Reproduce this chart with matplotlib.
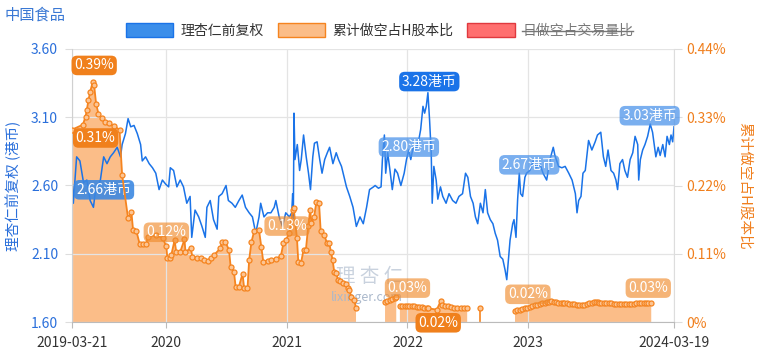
import matplotlib
matplotlib.use("Agg")
import matplotlib.pyplot as plt
from matplotlib.patches import Patch
from matplotlib.lines import Line2D
import numpy as np
import pandas as pd

plt.rcParams["font.family"] = ["Noto Sans CJK SC", "DejaVu Sans"]

TITLE = "中国食品"
PRICE_NAME = "理杏仁前复权"
SHORT_NAME = "累计做空占H股本比"
DAILY_NAME = "日做空占交易量比"
UNIT = "港币"

# price (HKD, forward adjusted)
price_dates = [
    "2019-03-21", "2019-03-25", "2019-04-04", "2019-04-14", "2019-04-25", "2019-05-05", "2019-05-15",
    "2019-05-25", "2019-05-30", "2019-06-15", "2019-06-25", "2019-07-05", "2019-07-15", "2019-07-25",
    "2019-08-05", "2019-08-15", "2019-08-20", "2019-08-30", "2019-09-07", "2019-09-15", "2019-09-25",
    "2019-10-05", "2019-10-15", "2019-10-20", "2019-10-30", "2019-11-10", "2019-11-20", "2019-11-30",
    "2019-12-10", "2019-12-20", "2019-12-30", "2020-01-08", "2020-01-13", "2020-01-23", "2020-02-02",
    "2020-02-12", "2020-02-22", "2020-03-03", "2020-03-13", "2020-03-18", "2020-03-28", "2020-04-08",
    "2020-04-18", "2020-04-28", "2020-05-03", "2020-05-13", "2020-05-23", "2020-06-03", "2020-06-08",
    "2020-06-18", "2020-06-30", "2020-07-07", "2020-07-18", "2020-07-28", "2020-08-08", "2020-08-18",
    "2020-08-28", "2020-09-08", "2020-09-18", "2020-09-28", "2020-10-08", "2020-10-13", "2020-10-23",
    "2020-11-03", "2020-11-13", "2020-11-23", "2020-11-28", "2020-12-08", "2020-12-18", "2020-12-28",
    "2021-01-08", "2021-01-15", "2021-01-18", "2021-01-20", "2021-01-22", "2021-01-25", "2021-02-01",
    "2021-02-08", "2021-02-13", "2021-02-20", "2021-02-28", "2021-03-07", "2021-03-13", "2021-03-20",
    "2021-03-25", "2021-04-02", "2021-04-10", "2021-04-17", "2021-04-25", "2021-05-03", "2021-05-10",
    "2021-05-20", "2021-05-30", "2021-06-06", "2021-06-15", "2021-06-23", "2021-06-30", "2021-07-10",
    "2021-07-20", "2021-07-30", "2021-08-10", "2021-08-20", "2021-08-30", "2021-09-08", "2021-09-20",
    "2021-09-25", "2021-10-05", "2021-10-13", "2021-10-17", "2021-10-23", "2021-10-27", "2021-11-02",
    "2021-11-09", "2021-11-16", "2021-11-24", "2021-12-02", "2021-12-12", "2021-12-22", "2021-12-29",
    "2022-01-05", "2022-01-11", "2022-01-18", "2022-01-28", "2022-02-04", "2022-02-10", "2022-02-17",
    "2022-02-22", "2022-02-27", "2022-03-04", "2022-03-09", "2022-03-14", "2022-03-17", "2022-03-22",
    "2022-03-29", "2022-04-03", "2022-04-11", "2022-04-18", "2022-04-28", "2022-05-07", "2022-05-18",
    "2022-05-28", "2022-06-06", "2022-06-17", "2022-06-26", "2022-07-03", "2022-07-11", "2022-07-19",
    "2022-07-26", "2022-08-02", "2022-08-10", "2022-08-18", "2022-08-25", "2022-09-01", "2022-09-09",
    "2022-09-17", "2022-09-24", "2022-10-01", "2022-10-09", "2022-10-17", "2022-10-24", "2022-10-29",
    "2022-11-03", "2022-11-08", "2022-11-16", "2022-11-20", "2022-11-26", "2022-12-01", "2022-12-06",
    "2022-12-10", "2022-12-16", "2022-12-23", "2022-12-28", "2023-01-07", "2023-01-17", "2023-01-27",
    "2023-02-06", "2023-02-16", "2023-02-27", "2023-03-09", "2023-03-19", "2023-03-24", "2023-04-04",
    "2023-04-14", "2023-04-24", "2023-05-05", "2023-05-15", "2023-05-25", "2023-05-30", "2023-06-04",
    "2023-06-11", "2023-06-17", "2023-06-24", "2023-07-04", "2023-07-14", "2023-07-24", "2023-07-31",
    "2023-08-10", "2023-08-18", "2023-08-25", "2023-09-01", "2023-09-10", "2023-09-18", "2023-09-25",
    "2023-09-30", "2023-10-07", "2023-10-15", "2023-10-22", "2023-10-30", "2023-11-07", "2023-11-15",
    "2023-11-22", "2023-11-30", "2023-12-03", "2023-12-08", "2023-12-15", "2023-12-22", "2023-12-30",
    "2024-01-07", "2024-01-14", "2024-01-19", "2024-01-24", "2024-01-31", "2024-02-06", "2024-02-14",
    "2024-02-21", "2024-02-27", "2024-03-05", "2024-03-10", "2024-03-15", "2024-03-19",
]
price_vals = [
    2.66, 2.47, 2.81, 2.78, 2.62, 2.64, 2.49,
    2.44, 2.54, 2.64, 2.81, 2.76, 2.81, 2.84,
    2.88, 2.81, 2.90, 2.98, 3.09, 3.03, 3.04,
    2.98, 2.90, 2.78, 2.81, 2.76, 2.73, 2.69,
    2.57, 2.64, 2.61, 2.59, 2.73, 2.71, 2.59,
    2.64, 2.59, 2.47, 2.52, 2.22, 2.42, 2.37,
    2.30, 2.22, 2.44, 2.49, 2.35, 2.28, 2.52,
    2.54, 2.60, 2.49, 2.47, 2.44, 2.49, 2.53,
    2.44, 2.40, 2.37, 2.25, 2.37, 2.47, 2.37,
    2.40, 2.40, 2.44, 2.49, 2.37, 2.30, 2.40,
    2.37, 2.40, 2.54, 2.36, 3.13, 2.79, 2.90,
    2.71, 2.79, 2.97, 2.81, 2.69, 2.57, 2.81,
    2.91, 2.92, 2.79, 2.69, 2.79, 2.84, 2.88,
    2.76, 2.84, 2.79, 2.74, 2.66, 2.59, 2.52,
    2.44, 2.30, 2.37, 2.32, 2.44, 2.57, 2.59,
    2.60, 2.58, 2.59, 2.79, 2.97, 2.69, 2.84,
    2.71, 2.57, 2.72, 2.69, 2.60, 2.69, 2.79,
    2.86, 2.79, 2.88, 2.87, 2.93, 3.01, 3.18,
    3.13, 3.18, 3.28, 3.08, 2.84, 2.47, 2.74,
    2.64, 2.50, 2.59, 2.52, 2.47, 2.54, 2.49,
    2.47, 2.52, 2.54, 2.69, 2.66, 2.52, 2.47,
    2.37, 2.32, 2.47, 2.40, 2.57, 2.40, 2.35,
    2.32, 2.25, 2.20, 2.08, 2.06, 1.98, 1.91,
    2.06, 2.20, 2.32, 2.35, 2.22, 2.50, 2.69,
    2.54, 2.52, 2.66, 2.69, 2.71, 2.78, 2.73,
    2.76, 2.69, 2.64, 2.79, 2.88, 2.82, 2.74,
    2.73, 2.74, 2.69, 2.64, 2.54, 2.40, 2.49,
    2.52, 2.69, 2.71, 2.93, 2.86, 2.92, 2.97,
    2.99, 2.81, 2.74, 2.86, 2.71, 2.69, 2.64,
    2.57, 2.76, 2.79, 2.71, 2.66, 2.79, 2.84,
    2.96, 2.90, 2.64, 2.79, 2.86, 2.90, 2.96,
    3.05, 2.99, 2.90, 2.81, 2.88, 2.82, 2.90,
    2.81, 2.96, 2.90, 2.97, 2.92, 3.03,
]

# cumulative short interest, % of H shares (None = no data)
short_dates = [
    "2019-03-21", "2019-04-23", "2019-05-01", "2019-05-05", "2019-05-10", "2019-05-15", "2019-05-23",
    "2019-05-27", "2019-06-02", "2019-06-09", "2019-06-19", "2019-06-30", "2019-07-10", "2019-07-25",
    "2019-08-12", "2019-08-20", "2019-09-07", "2019-09-17", "2019-09-22", "2019-10-02", "2019-10-12",
    "2019-10-22", "2019-11-01", "2019-11-06", "2019-12-01", "2019-12-21", "2020-01-01", "2020-01-04",
    "2020-01-11", "2020-01-16", "2020-01-26", "2020-01-31", "2020-02-12", "2020-02-25", "2020-02-28",
    "2020-03-15", "2020-03-20", "2020-04-04", "2020-04-15", "2020-04-25", "2020-05-05", "2020-05-15",
    "2020-05-25", "2020-06-13", "2020-06-18", "2020-06-28", "2020-07-09", "2020-07-14", "2020-07-24",
    "2020-07-29", "2020-08-08", "2020-08-19", "2020-08-24", "2020-09-03", "2020-09-08", "2020-09-15",
    "2020-09-23", "2020-10-08", "2020-10-15", "2020-10-21", "2020-11-03", "2020-11-13", "2020-11-28",
    "2020-12-13", "2020-12-21", "2020-12-28", "2021-01-08", "2021-01-18", "2021-01-21", "2021-01-31",
    "2021-02-04", "2021-02-12", "2021-02-20", "2021-02-27", "2021-03-06", "2021-03-12", "2021-03-16",
    "2021-03-24", "2021-03-31", "2021-04-08", "2021-04-13", "2021-04-24", "2021-05-02", "2021-05-09",
    "2021-05-14", "2021-05-19", "2021-05-24", "2021-05-29", "2021-06-05", "2021-06-11", "2021-06-19",
    "2021-06-29", "2021-07-04", "2021-07-09", "2021-07-14", "2021-07-24", "2021-07-29", "2021-08-05",
    "2021-10-20", "2021-10-25", "2021-11-01", "2021-11-08", "2021-11-15", "2021-11-23", "2021-11-28",
    "2021-12-03", "2021-12-09", "2021-12-16", "2021-12-23", "2021-12-30", "2022-01-07", "2022-01-14",
    "2022-01-22", "2022-01-29", "2022-02-06", "2022-02-13", "2022-02-21", "2022-02-28", "2022-03-04",
    "2022-03-31", "2022-04-12", "2022-04-17", "2022-04-25", "2022-05-03", "2022-05-12", "2022-05-21",
    "2022-05-30", "2022-06-11", "2022-06-20", "2022-07-01", "2022-07-10", "2022-08-08", "2022-08-15",
    "2022-11-15", "2022-11-23", "2022-11-30", "2022-12-08", "2022-12-15", "2022-12-23", "2022-12-30",
    "2023-01-07", "2023-01-14", "2023-01-22", "2023-01-29", "2023-02-06", "2023-02-13", "2023-02-21",
    "2023-03-01", "2023-03-07", "2023-03-13", "2023-03-20", "2023-03-26", "2023-04-02", "2023-04-10",
    "2023-04-16", "2023-04-22", "2023-04-29", "2023-05-07", "2023-05-14", "2023-05-22", "2023-05-29",
    "2023-06-06", "2023-06-13", "2023-06-21", "2023-06-28", "2023-07-06", "2023-07-13", "2023-07-19",
    "2023-07-26", "2023-08-01", "2023-08-05", "2023-08-12", "2023-08-20", "2023-08-27", "2023-09-04",
    "2023-09-11", "2023-09-19", "2023-09-26", "2023-10-04", "2023-10-11", "2023-10-19", "2023-10-26",
    "2023-11-03", "2023-11-10", "2023-11-18", "2023-11-25", "2023-12-03", "2023-12-10", "2023-12-18",
    "2023-12-25", "2024-01-01", "2024-01-10",
]
short_vals = [
    0.310, 0.318, 0.331, 0.342, 0.358, 0.371, 0.387,
    0.382, 0.352, 0.336, 0.328, 0.323, 0.320, 0.316,
    0.310, 0.237, 0.167, 0.178, 0.149, 0.147, 0.126,
    0.126, 0.126, 0.137, 0.140, 0.135, 0.122, 0.103,
    0.103, 0.108, 0.132, 0.113, 0.113, 0.133, 0.113,
    0.119, 0.105, 0.103, 0.103, 0.100, 0.099, 0.103,
    0.108, 0.119, 0.129, 0.129, 0.116, 0.089, 0.081,
    0.057, 0.057, 0.078, 0.054, 0.054, 0.100, 0.129,
    0.146, 0.148, 0.121, 0.097, 0.099, 0.100, 0.102,
    0.106, 0.127, 0.132, 0.143, 0.181, 0.183, 0.135,
    0.097, 0.095, 0.116, 0.116, 0.154, 0.181, 0.159,
    0.170, 0.194, 0.191, 0.146, 0.140, 0.127, 0.127,
    0.113, 0.100, 0.081, 0.079, 0.068, 0.066, 0.063,
    0.062, 0.054, 0.052, 0.041, 0.035, 0.022, None,
    None, 0.033, 0.034, 0.036, 0.037, 0.038, 0.041,
    None, 0.025, 0.025, 0.025, 0.025, 0.025, 0.025,
    0.025, 0.024, 0.024, 0.024, 0.023, 0.023, 0.022,
    0.020, 0.034, 0.027, 0.026, 0.025, 0.024, 0.023,
    0.023, 0.022, 0.022, 0.022, None, 0.022, None,
    None, 0.018, 0.019, 0.020, 0.021, 0.022, 0.023,
    0.024, 0.025, 0.027, 0.028, 0.029, 0.030, 0.031,
    0.032, 0.033, 0.034, 0.033, 0.032, 0.031, 0.031,
    0.030, 0.030, 0.030, 0.029, 0.029, 0.029, 0.028,
    0.027, 0.027, 0.028, 0.029, 0.030, 0.031, 0.032,
    0.033, 0.032, 0.031, 0.031, 0.030, 0.030, 0.030,
    0.030, 0.029, 0.029, 0.029, 0.029, 0.029, 0.029,
    0.029, 0.029, 0.029, 0.030, 0.030, 0.030, 0.030,
    0.030, 0.030, 0.030,
]

x_ticks = ["2019-03-21", "2020-01-01", "2021-01-01", "2022-01-01", "2023-01-01", "2024-03-19"]
x_tick_labels = ["2019-03-21", "2020", "2021", "2022", "2023", "2024-03-19"]
price_ticks = [1.60, 2.10, 2.60, 3.10, 3.60]
short_ticks = [0, 0.11, 0.22, 0.33, 0.44]
short_tick_labels = ["0%", "0.11%", "0.22%", "0.33%", "0.44%"]

# callouts: (date, value, kind)
price_marks = [("2019-03-21", 2.66, "first"), ("2022-03-04", 3.28, "max"),
               ("2022-01-01", 2.80, "year"), ("2023-01-01", 2.67, "year"), ("2024-01-01", 3.03, "year")]
short_marks = [("2019-03-21", 0.31, "first"), ("2019-05-23", 0.39, "max"), ("2022-03-31", 0.02, "min"),
               ("2020-01-01", 0.12, "year"), ("2021-01-01", 0.13, "year"), ("2022-01-01", 0.03, "year"),
               ("2023-01-01", 0.02, "year"), ("2024-01-01", 0.03, "year")]

BLUE = "#1a73e8"
ORANGE = "#f5841f"
FILL = "#fbbd88"

assert len(price_dates) == len(price_vals) and len(short_dates) == len(short_vals)
pdt = pd.to_datetime(price_dates)
sdt = pd.to_datetime(short_dates)
sv = np.array([np.nan if v is None else v for v in short_vals], dtype=float)

fig = plt.figure(figsize=(7.59, 3.56), dpi=100)
ax = fig.add_axes([72 / 759, 1 - 322 / 356, 602 / 759, 273 / 356])
ax2 = ax.twinx()   # short fill + right axis (bottom layer)
ax3 = ax.twinx()   # short line + markers (top layer)
ax2.set_zorder(0); ax.set_zorder(1); ax3.set_zorder(2)
for a in (ax, ax2, ax3):
    a.patch.set_visible(False)

# area + isolated stems
ax2.fill_between(sdt, np.ma.masked_invalid(sv), 0, color=FILL, lw=0)
ok = ~np.isnan(sv)
iso = ok & ~np.r_[False, ok[:-1]] & ~np.r_[ok[1:], False]
ax2.vlines(sdt[iso], 0, sv[iso], color=ORANGE, lw=1.2)

ax.plot(pdt, price_vals, color=BLUE, lw=1.1)
ax3.plot(sdt, sv, color=ORANGE, lw=1.3, marker="o", ms=3.6, mfc="#fcc594", mec=ORANGE, mew=0.9)

start, end = pd.Timestamp(x_ticks[0]), pd.Timestamp(x_ticks[-1])
ax.set_xlim(start, end)
ax.set_ylim(price_ticks[0], price_ticks[-1])
ax2.set_ylim(short_ticks[0], short_ticks[-1])
ax3.set_ylim(short_ticks[0], short_ticks[-1])

ax.set_xticks(pd.to_datetime(x_ticks))
ax.set_xticklabels(x_tick_labels)
ax.set_yticks(price_ticks)
ax.set_yticklabels([f"{v:.2f}" for v in price_ticks])
ax2.set_yticks(short_ticks)
ax2.set_yticklabels(short_tick_labels)
ax3.yaxis.set_visible(False)
ax3.xaxis.set_visible(False)

ax.grid(True, color="#e4e4e4", lw=0.9)
ax.tick_params(axis="y", length=5, color="#dddddd", labelcolor="#2a6fdb", labelsize=10, pad=5)
ax.tick_params(axis="x", length=4, color="#bbbbbb", labelcolor="#333333", labelsize=10, pad=6)
ax2.tick_params(axis="y", length=6, color="#dddddd", labelcolor="#f07f1d", labelsize=10, pad=3)

for a in (ax2, ax3):
    for s in a.spines.values():
        s.set_visible(False)
ax.spines["top"].set_visible(False)
ax.spines["left"].set_color("#d0d0d0")
ax.spines["right"].set_color("#dddddd")
ax.spines["bottom"].set_color("#bbbbbb")

ax.set_ylabel(f"{PRICE_NAME} ({UNIT})", color="#2a6fdb", fontsize=10.5, va="center")
ax.yaxis.set_label_coords(-0.097, 0.5)
ax2.set_ylabel(SHORT_NAME, color="#f07f1d", fontsize=10.5, rotation=270, va="center")
ax2.yaxis.set_label_coords(1.118, 0.5)

# watermark
ax.text(0.495, 0.165, "理 杏 仁", transform=ax.transAxes, fontsize=14, color="#c9d2de",
        ha="center", va="center", zorder=0)
ax.text(0.49, 0.09, "lixinger.com", transform=ax.transAxes, fontsize=9, color="#aab8cb",
        ha="center", va="center", zorder=0)


def callout(axis, date, val, text, fc, alpha, dx, dy):
    axis.annotate(text, (pd.Timestamp(date), val), xytext=(dx, dy), textcoords="offset points",
                  ha="center", va="center", color="white", fontsize=10, zorder=10,
                  annotation_clip=False,
                  bbox=dict(boxstyle="round,pad=0.2,rounding_size=0.4", fc=fc, ec="none", alpha=alpha))


for d, v, kind in price_marks:
    t = f"{v:.2f}{UNIT}"
    if kind == "first":
        callout(ax, d, v, t, "#3c88e2", 0.9, 23, -9)
    elif kind == "max":
        callout(ax, d, v, t, BLUE, 1.0, 1, 8)
    else:
        callout(ax, d, v, t, "#4d94ea", 0.75, 1, 8)

for d, v, kind in short_marks:
    t = f"{v:.2f}%"
    if kind == "first":
        callout(ax3, d, v, t, "#f0801c", 1.0, 17, -6)
    elif kind == "max":
        callout(ax3, d, v, t, "#f0801c", 1.0, 1, 10.5)
    elif kind == "min":
        callout(ax3, d, v, t, "#f0801c", 1.0, 1, -9.5)
    else:
        callout(ax3, d, v, t, "#f08c2e", 0.65, 0, 11)

fig.text(5 / 759, 1 - 15 / 356, TITLE, color="#3a78d4", fontsize=11, ha="left", va="center")

handles = [Patch(fc="#3b8eea", ec=BLUE), Patch(fc=FILL, ec=ORANGE), Patch(fc="#ff6f6f", ec="#e0393e")]
leg = fig.legend(handles, [PRICE_NAME, SHORT_NAME, DAILY_NAME], loc="center",
                 bbox_to_anchor=(0.5, 1 - 30.5 / 356), ncol=3, frameon=False, fontsize=10,
                 handlelength=3.4, handleheight=1.1, handletextpad=0.55, columnspacing=1.0)
for t in leg.get_texts():
    t.set_color("#333333")
leg.get_texts()[2].set_color("#777777")

# hidden series: strike through its legend text
fig.canvas.draw()
bb = leg.get_texts()[2].get_window_extent()
inv = fig.transFigure.inverted()
(x0, y0), (x1, y1) = inv.transform([(bb.x0, bb.y0), (bb.x1, bb.y1)])
ym = (y0 + y1) / 2
fig.add_artist(Line2D([x0, x1], [ym, ym], transform=fig.transFigure, color="#777777", lw=1))

fig.savefig("out.png", dpi=100)
